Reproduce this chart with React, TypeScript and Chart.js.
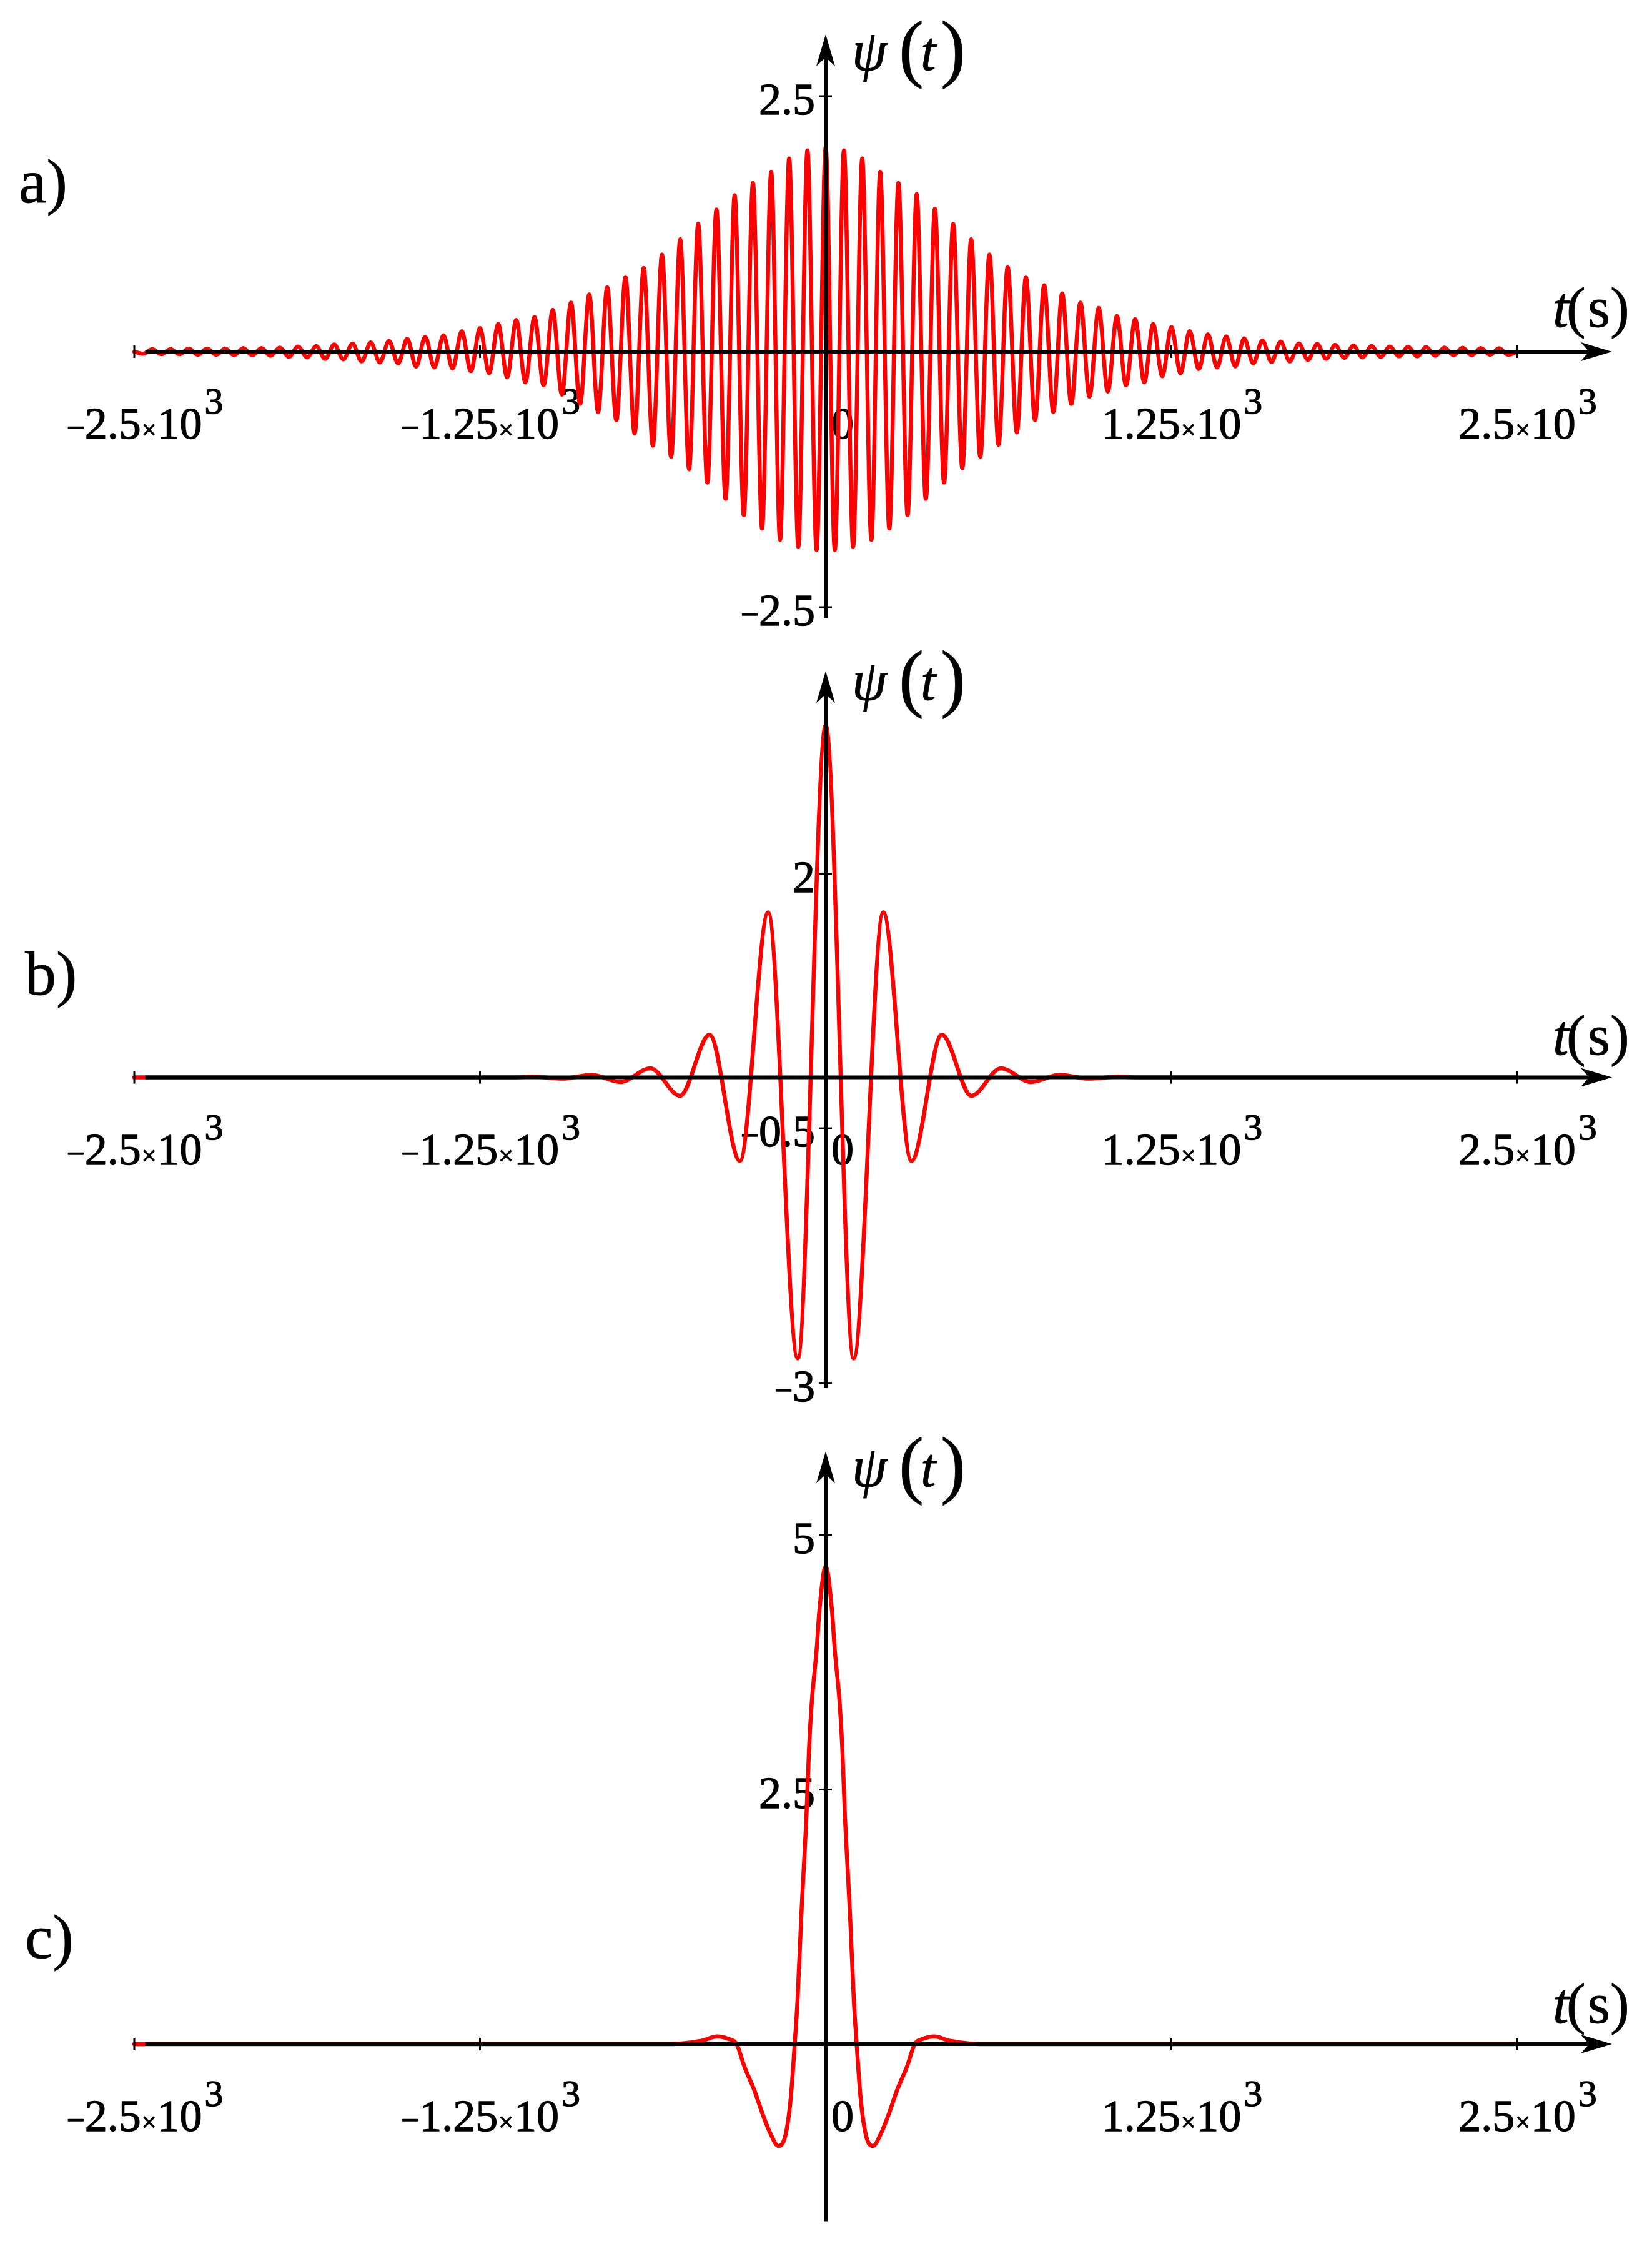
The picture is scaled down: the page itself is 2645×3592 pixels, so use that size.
import React, { useEffect, useRef } from "react";
import { Chart, registerables } from "chart.js";

Chart.register(...registerables);

// ---------------- data ----------------
const xTickValues = [-2500, -1250, 1250, 2500];
const xTickMantissas = ["−2.5", "−1.25", "1.25", "2.5"];
const xTickExponent = "3";

// panel a: extrema of the wave packet (t in s, psi)
const aTimes = [
  -2500, -2468, -2435, -2402, -2369, -2336, -2303, -2270, -2237, -2204, -2171, -2139, -2106, -2073, -2040, -2007,
  -1974, -1941, -1908, -1875, -1842, -1810, -1777, -1744, -1711, -1678, -1645, -1612, -1579, -1546, -1513, -1481,
  -1448, -1415, -1382, -1349, -1316, -1283, -1250, -1217, -1184, -1152, -1119, -1086, -1053, -1020, -987, -954,
  -921, -888, -855, -823, -790, -757, -724, -691, -658, -625, -592, -559, -526, -494, -461, -428, -395, -362,
  -329, -296, -263, -230, -197, -165, -132, -99, -66, -33, 0, 33, 66, 99, 132, 165, 197, 230, 263, 296, 329, 362,
  395, 428, 461, 494, 526, 559, 592, 625, 658, 691, 724, 757, 790, 823, 855, 888, 921, 954, 987, 1020, 1053, 1086,
  1119, 1152, 1184, 1217, 1250, 1283, 1316, 1349, 1382, 1415, 1448, 1481, 1513, 1546, 1579, 1612, 1645, 1678, 1711,
  1744, 1777, 1810, 1842, 1875, 1908, 1941, 1974, 2007, 2040, 2073, 2106, 2139, 2171, 2204, 2237, 2270, 2303, 2336,
  2369, 2402, 2435, 2468, 2500,
];
const aValues = [
  0, -0.02, 0.025, -0.025, 0.025, -0.025, 0.03, -0.03, 0.03, -0.03, 0.03, -0.035, 0.035, -0.035, 0.035, -0.04,
  0.04, -0.05, 0.05, -0.055, 0.055, -0.07, 0.07, -0.075, 0.08, -0.095, 0.09, -0.105, 0.105, -0.115, 0.125, -0.145,
  0.145, -0.155, 0.16, -0.165, 0.2, -0.19, 0.23, -0.21, 0.27, -0.25, 0.31, -0.3, 0.34, -0.33, 0.41, -0.42,
  0.48, -0.51, 0.56, -0.59, 0.63, -0.67, 0.73, -0.8, 0.82, -0.92, 0.95, -1.03, 1.1, -1.15, 1.25, -1.28, 1.39, -1.44,
  1.53, -1.6, 1.65, -1.73, 1.76, -1.84, 1.89, -1.91, 1.97, -1.94, 2.0, -1.94, 1.97, -1.91, 1.89, -1.84, 1.76, -1.73,
  1.65, -1.6, 1.54, -1.44, 1.4, -1.28, 1.25, -1.14, 1.1, -1.03, 0.95, -0.91, 0.83, -0.79, 0.73, -0.67, 0.65, -0.59,
  0.57, -0.51, 0.48, -0.44, 0.43, -0.39, 0.35, -0.33, 0.32, -0.3, 0.27, -0.24, 0.24, -0.21, 0.2, -0.17, 0.17,
  -0.155, 0.15, -0.145, 0.13, -0.115, 0.11, -0.1, 0.1, -0.095, 0.08, -0.08, 0.075, -0.07, 0.065, -0.06, 0.06,
  -0.055, 0.055, -0.05, 0.05, -0.045, 0.047, -0.045, 0.044, -0.04, 0.04, -0.035, 0.038, -0.035, 0.035, -0.03,
  0.033, -0.03, 0,
];
const aYTicks = [2.5, -2.5];
const aYTickLabels = ["2.5", "−2.5"];

// panel b
const bTimes = [
  -2500, -1130, -1060, -952, -846, -742, -634, -527, -420, -310, -208, -101, 0, 101, 208, 310, 420, 527, 634, 742,
  846, 952, 1060, 1130, 2500,
];
const bValues = [
  0, 0, 0.006, -0.012, 0.025, -0.045, 0.09, -0.18, 0.42, -0.82, 1.62, -2.76, 3.46, -2.76, 1.62, -0.82, 0.42, -0.18,
  0.09, -0.045, 0.025, -0.012, 0.006, 0, 0,
];
const bYTicks = [2, -0.5, -3];
const bYTickLabels = ["2", "−0.5", "−3"];

// panel c
const cTimes = [
  -2500, -560, -524, -491, -444, -393, -351, -322, -294, -257, -229, -201, -171, -145, -126, -112, -102, -88, -79,
  -70, -60, -51, -32, -23, 0, 23, 32, 51, 60, 70, 79, 88, 102, 112, 126, 145, 171, 201, 229, 257, 294, 322, 351,
  393, 444, 491, 524, 560, 2500,
];
const cValues = [
  0, 0, 0.005, 0.015, 0.035, 0.075, 0.05, 0, -0.22, -0.46, -0.68, -0.87, -1.0, -0.89, -0.52, 0, 0.42, 1.27, 1.74,
  2.21, 2.91, 3.33, 3.9, 4.25, 4.69, 4.25, 3.9, 3.33, 2.91, 2.21, 1.74, 1.27, 0.42, 0, -0.52, -0.89, -1.0, -0.87,
  -0.68, -0.46, -0.22, 0, 0.05, 0.075, 0.035, 0.015, 0.005, 0, 0,
];
const cYTicks = [5, 2.5];
const cYTickLabels = ["5", "2.5"];

// ---------------- layout ----------------
const PAGE_W = 2645;
const PAGE_H = 3592;
const X_LEFT = 215;
const X_RIGHT = 2429;
const SERIF = '"Liberation Serif", "Times New Roman", Times, serif';

type PanelCfg = {
  key: string;
  top: number;
  height: number;
  zeroY: number;
  unit: number;
  ymin: number;
  ymax: number;
  times: number[];
  values: number[];
  yTicks: number[];
  yTickLabels: string[];
  panelLabel: string;
  panelLabelX: number;
  panelLabelY: number;
  psiBase: number;
  tsBase: number;
};

const panels: PanelCfg[] = [
  {
    key: "a", top: 0, height: 1040, zeroY: 563, unit: 163.6, ymin: -2.61, ymax: 3.105,
    times: aTimes, values: aValues, yTicks: aYTicks, yTickLabels: aYTickLabels,
    panelLabel: "a)", panelLabelX: 30, panelLabelY: 324, psiBase: 112, tsBase: 523,
  },
  {
    key: "b", top: 1040, height: 1240, zeroY: 1724.6, unit: 163, ymin: -3.05, ymax: 3.99,
    times: bTimes, values: bValues, yTicks: bYTicks, yTickLabels: bYTickLabels,
    panelLabel: "b)", panelLabelX: 40, panelLabelY: 1592, psiBase: 1120, tsBase: 1688,
  },
  {
    key: "c", top: 2280, height: 1312, zeroY: 3272, unit: 163, ymin: -1.74, ymax: 5.82,
    times: cTimes, values: cValues, yTicks: cYTicks, yTickLabels: cYTickLabels,
    panelLabel: "c)", panelLabelX: 40, panelLabelY: 3134, psiBase: 2379, tsBase: 3238,
  },
];

type Tok = { t: string; s: number; i?: boolean; dy?: number; dx?: number };

function font(size: number, italic = false) {
  return `${italic ? "italic " : ""}${size}px ${SERIF}`;
}

function toksWidth(ctx: CanvasRenderingContext2D, toks: Tok[]) {
  let w = 0;
  for (const k of toks) {
    ctx.font = font(k.s, k.i);
    w += ctx.measureText(k.t).width + (k.dx || 0);
  }
  return w;
}

function drawToks(ctx: CanvasRenderingContext2D, x: number, y: number, toks: Tok[]) {
  for (const k of toks) {
    ctx.font = font(k.s, k.i);
    x += k.dx || 0;
    ctx.fillText(k.t, x, y + (k.dy || 0));
    ctx.strokeText(k.t, x, y + (k.dy || 0));
    x += ctx.measureText(k.t).width;
  }
  return x;
}

function numToks(label: string): Tok[] {
  if (label.startsWith("−")) return [{ t: "−", s: 52 }, { t: label.slice(1), s: 72 }];
  return [{ t: label, s: 72 }];
}

function makePlugin(cfg: PanelCfg) {
  return {
    id: "mapleAxes_" + cfg.key,
    beforeDatasetsDraw(chart: any) {
      const ctx: CanvasRenderingContext2D = chart.ctx;
      const xs = chart.scales.x;
      const ys = chart.scales.y;
      const x0 = xs.getPixelForValue(0);
      const y0 = ys.getPixelForValue(0);
      ctx.save();
      ctx.fillStyle = "#000";
      ctx.strokeStyle = "#000";
      ctx.lineWidth = 1.3;
      ctx.lineJoin = "round";
      ctx.textAlign = "left";
      ctx.textBaseline = "alphabetic";

      // x tick labels
      const xlBase = y0 + 139;
      xTickValues.forEach((v, i) => {
        const px = xs.getPixelForValue(v);
        const main: Tok[] = [...numToks(xTickMantissas[i]), { t: "×", s: 42, dx: 1 }, { t: "10", s: 72, dx: 1 }];
        const w = toksWidth(ctx, main);
        const end = drawToks(ctx, px - w / 2, xlBase, main);
        drawToks(ctx, end, xlBase, [{ t: xTickExponent, s: 60, dy: -40, dx: 4 }]);
      });
      // "0"
      drawToks(ctx, x0 + 9, xlBase, [{ t: "0", s: 72 }]);

      // y tick labels
      cfg.yTicks.forEach((v, i) => {
        const py = ys.getPixelForValue(v);
        const toks = numToks(cfg.yTickLabels[i]);
        const w = toksWidth(ctx, toks);
        drawToks(ctx, x0 - 17 - w, py + 29, toks);
      });

      // psi(t) label
      const pb = cfg.psiBase - cfg.top;
      ctx.lineWidth = 0.8;
      drawToks(ctx, x0 + 42, pb, [{ t: "ψ", s: 90, i: true }]);
      drawToks(ctx, x0 + 117, pb + 5, [{ t: "(", s: 120 }]);
      drawToks(ctx, x0 + 152, pb, [{ t: "t", s: 88, i: true }]);
      drawToks(ctx, x0 + 184, pb + 5, [{ t: ")", s: 120 }]);

      // t(s) label
      const xe = xs.getPixelForValue(2500);
      const tb = cfg.tsBase - cfg.top;
      drawToks(ctx, xe + 57, tb, [{ t: "t", s: 92, i: true }]);
      drawToks(ctx, xe + 79, tb, [{ t: "(", s: 92 }]);
      drawToks(ctx, xe + 113, tb, [{ t: "s", s: 92 }]);
      drawToks(ctx, xe + 149, tb, [{ t: ")", s: 92 }]);

      // panel label
      drawToks(ctx, cfg.panelLabelX, cfg.panelLabelY - cfg.top, [{ t: cfg.panelLabel, s: 100 }]);
      ctx.restore();
    },
    afterDatasetsDraw(chart: any) {
      const ctx: CanvasRenderingContext2D = chart.ctx;
      const xs = chart.scales.x;
      const ys = chart.scales.y;
      const x0 = xs.getPixelForValue(0);
      const y0 = ys.getPixelForValue(0);
      ctx.save();
      ctx.strokeStyle = "#000";
      ctx.fillStyle = "#000";
      ctx.lineCap = "butt";

      // x axis with arrow
      const xStart = xs.getPixelForValue(-2460);
      const xTip = xs.getPixelForValue(2500) + 152;
      ctx.lineWidth = 6;
      ctx.beginPath();
      ctx.moveTo(xStart, y0);
      ctx.lineTo(xTip - 36, y0);
      ctx.stroke();
      ctx.beginPath();
      ctx.moveTo(xTip, y0);
      ctx.lineTo(xTip - 50, y0 - 15);
      ctx.lineTo(xTip - 37, y0);
      ctx.lineTo(xTip - 50, y0 + 15);
      ctx.closePath();
      ctx.fill();

      // y axis with arrow
      const yTip = ys.getPixelForValue(cfg.ymax);
      const yBot = ys.getPixelForValue(cfg.ymin);
      ctx.lineWidth = 6;
      ctx.beginPath();
      ctx.moveTo(x0, yBot);
      ctx.lineTo(x0, yTip + 36);
      ctx.stroke();
      ctx.beginPath();
      ctx.moveTo(x0, yTip);
      ctx.lineTo(x0 - 15, yTip + 51);
      ctx.lineTo(x0, yTip + 37);
      ctx.lineTo(x0 + 15, yTip + 51);
      ctx.closePath();
      ctx.fill();

      // ticks
      ctx.lineWidth = 3;
      xTickValues.forEach((v) => {
        const px = xs.getPixelForValue(v);
        ctx.beginPath();
        ctx.moveTo(px, y0 - 10);
        ctx.lineTo(px, y0 + 10);
        ctx.stroke();
      });
      cfg.yTicks.forEach((v) => {
        const py = ys.getPixelForValue(v);
        ctx.beginPath();
        ctx.moveTo(x0 - 11, py);
        ctx.lineTo(x0 + 10, py);
        ctx.stroke();
      });
      ctx.restore();
    },
  };
}

function Panel({ cfg }: { cfg: PanelCfg }) {
  const ref = useRef<HTMLCanvasElement>(null);
  useEffect(() => {
    const canvas = ref.current;
    if (!canvas) return;
    const localZero = cfg.zeroY - cfg.top;
    const areaTop = localZero - cfg.ymax * cfg.unit;
    const areaBottom = localZero - cfg.ymin * cfg.unit;
    const chart = new Chart(canvas, {
      type: "line",
      data: {
        datasets: [
          {
            data: cfg.times.map((t, i) => ({ x: t, y: cfg.values[i] })),
            borderColor: "#ff0000",
            borderWidth: 6.5,
            pointRadius: 0,
            cubicInterpolationMode: "monotone",
            fill: false,
            clip: false,
            borderJoinStyle: "round",
            borderCapStyle: "round",
          } as any,
        ],
      },
      options: {
        animation: false,
        responsive: false,
        maintainAspectRatio: false,
        devicePixelRatio: 1,
        events: [],
        layout: {
          padding: {
            left: X_LEFT,
            right: PAGE_W - X_RIGHT,
            top: areaTop,
            bottom: cfg.height - areaBottom,
          },
        },
        scales: {
          x: { type: "linear", min: -2500, max: 2500, display: false },
          y: { type: "linear", min: cfg.ymin, max: cfg.ymax, display: false },
        },
        plugins: { legend: { display: false }, tooltip: { enabled: false } },
      } as any,
      plugins: [makePlugin(cfg) as any],
    });
    return () => chart.destroy();
  }, [cfg]);
  return (
    <canvas
      ref={ref}
      width={PAGE_W}
      height={cfg.height}
      style={{ position: "absolute", left: 0, top: cfg.top, width: PAGE_W, height: cfg.height }}
    />
  );
}

export default function App() {
  return (
    <div style={{ position: "absolute", left: 0, top: 0, width: PAGE_W, height: PAGE_H, background: "#fff" }}>
      {panels.map((p) => (
        <Panel key={p.key} cfg={p} />
      ))}
    </div>
  );
}
